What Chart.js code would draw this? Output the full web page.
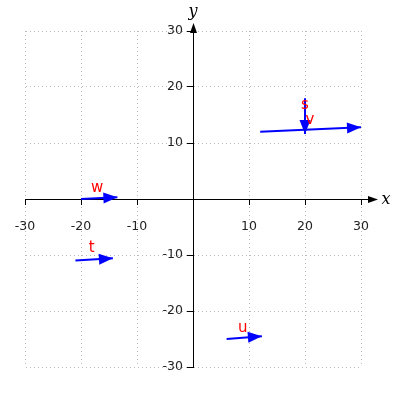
<!DOCTYPE html>
<html>
<head>
<meta charset="utf-8">
<script src="https://cdn.jsdelivr.net/npm/chart.js@4.4.1/dist/chart.umd.min.js"></script>
<style>
  html, body { margin: 0; padding: 0; background: #fff; }
  #wrap { width: 400px; height: 400px; }
</style>
</head>
<body>
<div id="wrap"><canvas id="vectors" width="400" height="400"></canvas></div>
<script>
// vector data
const names  = ['s', 't', 'u', 'v', 'w'];
const startX = [20, -21, 6, 12, -20];
const startY = [18, -11, -25, 12, 0];
const endX   = [20, -14.3, 12.3, 30, -13.5];
const endY   = [11.6, -10.6, -24.5, 12.8, 0.3];
const labelX = [20, -18.1, 8.9, 20.9, -17.1];
const labelY = [16.8, -8.8, -23.1, 14, 1.9];
const tickValues = [-30, -20, -10, 0, 10, 20, 30];

const datasets = names.map((n, i) => ({
  label: n,
  data: [{ x: startX[i], y: startY[i] }, { x: endX[i], y: endY[i] }],
  showLine: true,
  borderColor: '#0000ff',
  backgroundColor: '#0000ff',
  borderWidth: 2,
  pointRadius: 0,
  pointHoverRadius: 0
}));

function arrowHead(ctx, x1, y1, x2, y2, len, half) {
  const a = Math.atan2(y2 - y1, x2 - x1);
  ctx.beginPath();
  ctx.moveTo(x2, y2);
  ctx.lineTo(x2 - len * Math.cos(a) + half * Math.sin(a), y2 - len * Math.sin(a) - half * Math.cos(a));
  ctx.lineTo(x2 - len * Math.cos(a) - half * Math.sin(a), y2 - len * Math.sin(a) + half * Math.cos(a));
  ctx.closePath();
  ctx.fill();
}

// move the axes so they cross at the origin
const crossAxes = {
  id: 'crossAxes',
  afterLayout(chart) {
    const xs = chart.scales.x, ys = chart.scales.y;
    const ox = xs.getPixelForValue(0);
    const oy = ys.getPixelForValue(0);
    ys.left = ox - 40;
    ys.right = ox;
    xs.top = oy;
    xs.bottom = oy + 40;
  }
};

// axis arrows, vector heads and labels
const vectorPlugin = {
  id: 'vectorPlugin',
  afterDatasetsDraw(chart) {
    const ctx = chart.ctx;
    const xs = chart.scales.x, ys = chart.scales.y;
    const area = chart.chartArea;
    const ox = Math.round(xs.getPixelForValue(0)), oy = Math.round(ys.getPixelForValue(0));
    ctx.save();
    // axis extensions
    ctx.strokeStyle = '#000';
    ctx.fillStyle = '#000';
    ctx.lineWidth = 1;
    ctx.beginPath();
    ctx.moveTo(area.right, oy + 0.5);
    ctx.lineTo(372, oy + 0.5);
    ctx.moveTo(ox + 0.5, area.top);
    ctx.lineTo(ox + 0.5, 30);
    ctx.stroke();
    arrowHead(ctx, 360, oy + 0.5, 378, oy + 0.5, 10, 3.5);
    arrowHead(ctx, ox + 0.5, 40, ox + 0.5, 23, 10, 3.5);
    ctx.font = 'italic 16px "DejaVu Serif"';
    ctx.textAlign = 'center';
    ctx.textBaseline = 'middle';
    ctx.fillText('x', 386, oy + 1);
    ctx.fillText('y', ox, 12);

    // vector heads
    ctx.fillStyle = '#0000ff';
    chart.data.datasets.forEach((ds, i) => {
      const pts = chart.getDatasetMeta(i).data;
      arrowHead(ctx, pts[0].x, pts[0].y, pts[1].x, pts[1].y, 14, 5.5);
    });

    // labels
    ctx.fillStyle = '#ff0000';
    ctx.font = '15px "DejaVu Sans"';
    names.forEach((n, i) => {
      ctx.fillText(n, xs.getPixelForValue(labelX[i]), ys.getPixelForValue(labelY[i]));
    });
    ctx.restore();
  }
};

function axisOptions(horizontal) {
  return {
    type: 'linear',
    position: horizontal ? 'bottom' : 'left',
    min: -30,
    max: 30,
    afterBuildTicks: s => { s.ticks = tickValues.map(v => ({ value: v })); },
    afterFit: s => { if (s.isHorizontal()) s.height = 0; else s.width = 0; },
    grid: {
      color: '#bbbbbb',
      lineWidth: 1,
      tickColor: '#000',
      tickLength: 6,
      tickWidth: 1,
      tickBorderDash: []
    },
    border: { display: true, color: '#000', width: 1, dash: [1, 3] },
    ticks: {
      color: '#222',
      font: { family: 'DejaVu Sans', size: 12.5 },
      padding: horizontal ? 14 : 4,
      maxRotation: 0,
      autoSkip: false,
      callback: v => (v === 0 ? '' : v)
    }
  };
}

new Chart(document.getElementById('vectors'), {
  type: 'scatter',
  data: { datasets: datasets },
  options: {
    responsive: false,
    animation: false,
    layout: { padding: { left: 25, right: 39, top: 31, bottom: 33 } },
    plugins: { legend: { display: false }, tooltip: { enabled: false } },
    scales: {
      x: axisOptions(true),
      y: axisOptions(false)
    }
  },
  plugins: [crossAxes, vectorPlugin]
});
</script>
</body>
</html>
